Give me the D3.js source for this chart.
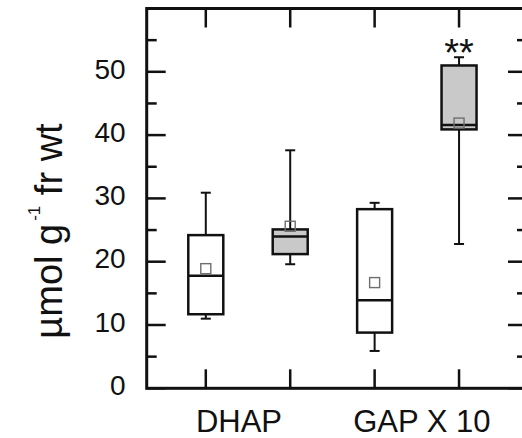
<!DOCTYPE html>
<html>
<head>
<meta charset="utf-8">
<script src="https://cdn.jsdelivr.net/npm/d3@7"></script>
<style>
  html, body { margin: 0; padding: 0; background: #fff; }
  svg { display: block; }
  text { font-family: "Liberation Sans", Arial, sans-serif; fill: #111; }
</style>
</head>
<body>
<script>
// Box-plot statistics per box: whisker low, Q1, median, Q3, whisker high, mean
const boxNames   = ["DHAP-a", "DHAP-b", "GAP-a", "GAP-b"];
const whiskerLow = [11.0, 19.6, 5.9, 22.8];
const q1         = [11.7, 21.2, 8.8, 40.9];
const median     = [17.8, 24.0, 13.9, 41.6];
const q3         = [24.2, 25.1, 28.3, 51.0];
const whiskerHigh= [30.9, 37.6, 29.3, 52.3];
const means      = [18.9, 25.6, 16.7, 41.9];
const filled     = [false, true, false, true];
const marks      = ["", "", "", "**"];

// Group labels under the axis and the boxes they span
const groupLabels = ["DHAP", "GAP X 10"];
const groupMembers = [[0, 1], [2, 3]];

const yTicks = [0, 10, 20, 30, 40, 50];

const W = 522, H = 438;
const svg = d3.select("body").append("svg").attr("width", W).attr("height", H);

// Frame spans x 0.3..4.8 in box units; its right side runs past the window
const x = d3.scaleLinear().domain([0.3, 4.805]).range([146.7, 527]);
const y = d3.scaleLinear().domain([0, 60]).range([388.3, 8.5]);

const ink = "#111";
const boxW = 35, capW = 10;
const majorLen = 19, minorLen = 10;

const x0 = x.range()[0], x1 = x.range()[1];
const yB = y.range()[0], yT = y.range()[1];

// Inward ticks on all four sides
const yMajor = d3.range(0, 61, 10);
const yMinor = d3.range(5, 60, 10);
const gT = svg.append("g").attr("stroke", ink).attr("stroke-width", 2.5);
[[x0, 1], [x1, -1]].forEach(([xs, dir]) => {
  gT.selectAll(null).data(yMajor).join("line")
    .attr("x1", xs).attr("x2", xs + dir * majorLen)
    .attr("y1", d => y(d)).attr("y2", d => y(d));
  gT.selectAll(null).data(yMinor).join("line")
    .attr("x1", xs).attr("x2", xs + dir * minorLen)
    .attr("y1", d => y(d)).attr("y2", d => y(d));
});
const xPos = boxNames.map((d, i) => i + 1);
[[yB, -1], [yT, 1]].forEach(([ys, dir]) => {
  gT.selectAll(null).data(xPos).join("line")
    .attr("x1", d => x(d)).attr("x2", d => x(d))
    .attr("y1", ys).attr("y2", ys + dir * majorLen);
});

// Boxes
const g = svg.append("g");
boxNames.forEach((name, i) => {
  const cx = x(i + 1);
  const b = g.append("g").attr("stroke", ink).attr("fill", "none");
  // whiskers
  b.append("line").attr("x1", cx).attr("x2", cx)
    .attr("y1", y(q3[i])).attr("y2", y(whiskerHigh[i])).attr("stroke-width", 2);
  b.append("line").attr("x1", cx).attr("x2", cx)
    .attr("y1", y(q1[i])).attr("y2", y(whiskerLow[i])).attr("stroke-width", 2);
  b.append("line").attr("x1", cx - capW / 2).attr("x2", cx + capW / 2)
    .attr("y1", y(whiskerHigh[i])).attr("y2", y(whiskerHigh[i])).attr("stroke-width", 2);
  b.append("line").attr("x1", cx - capW / 2).attr("x2", cx + capW / 2)
    .attr("y1", y(whiskerLow[i])).attr("y2", y(whiskerLow[i])).attr("stroke-width", 2);
  // interquartile box
  b.append("rect")
    .attr("x", cx - boxW / 2).attr("width", boxW)
    .attr("y", y(q3[i])).attr("height", y(q1[i]) - y(q3[i]))
    .attr("fill", filled[i] ? "#c9c9c9" : "#fff")
    .attr("stroke-width", 2.5);
  // median
  b.append("line").attr("x1", cx - boxW / 2).attr("x2", cx + boxW / 2)
    .attr("y1", y(median[i])).attr("y2", y(median[i])).attr("stroke-width", 2.5);
  // mean marker
  b.append("rect")
    .attr("x", cx - 5).attr("y", y(means[i]) - 5)
    .attr("width", 10).attr("height", 10)
    .attr("stroke", "#6e6e6e").attr("stroke-width", 1.4).attr("fill", "none");
  // significance mark
  if (marks[i]) {
    svg.append("text")
      .attr("x", cx).attr("y", y(whiskerHigh[i]) + 9)
      .attr("text-anchor", "middle")
      .attr("font-size", 38)
      .text(marks[i]);
  }
});

// Frame
svg.append("rect")
  .attr("x", x0).attr("y", yT).attr("width", x1 - x0).attr("height", yB - yT)
  .attr("fill", "none").attr("stroke", ink).attr("stroke-width", 3);

// Y tick labels
svg.append("g").selectAll("text").data(yTicks).join("text")
  .attr("x", x0 - 21).attr("y", d => y(d))
  .attr("dy", "0.24em")
  .attr("text-anchor", "end")
  .attr("font-size", 28)
  .text(d => d);

// Group labels
const labelShift = [-9, 5];
svg.append("g").selectAll("text").data(groupLabels).join("text")
  .attr("x", (d, i) => x(d3.mean(groupMembers[i], j => j + 1)) + labelShift[i])
  .attr("y", 431.5)
  .attr("text-anchor", "middle")
  .attr("font-size", 31)
  .text(d => d);

// Y axis title with superscript exponent
const yt = svg.append("text")
  .attr("transform", "translate(62,231) rotate(-90)")
  .attr("text-anchor", "middle")
  .attr("font-size", 38);
yt.append("tspan").text("\u00B5mol g");
yt.append("tspan").attr("font-size", 17).attr("dx", 3).attr("dy", -22).text("-1");
yt.append("tspan").attr("dy", 22).text(" fr wt");
</script>
</body>
</html>
